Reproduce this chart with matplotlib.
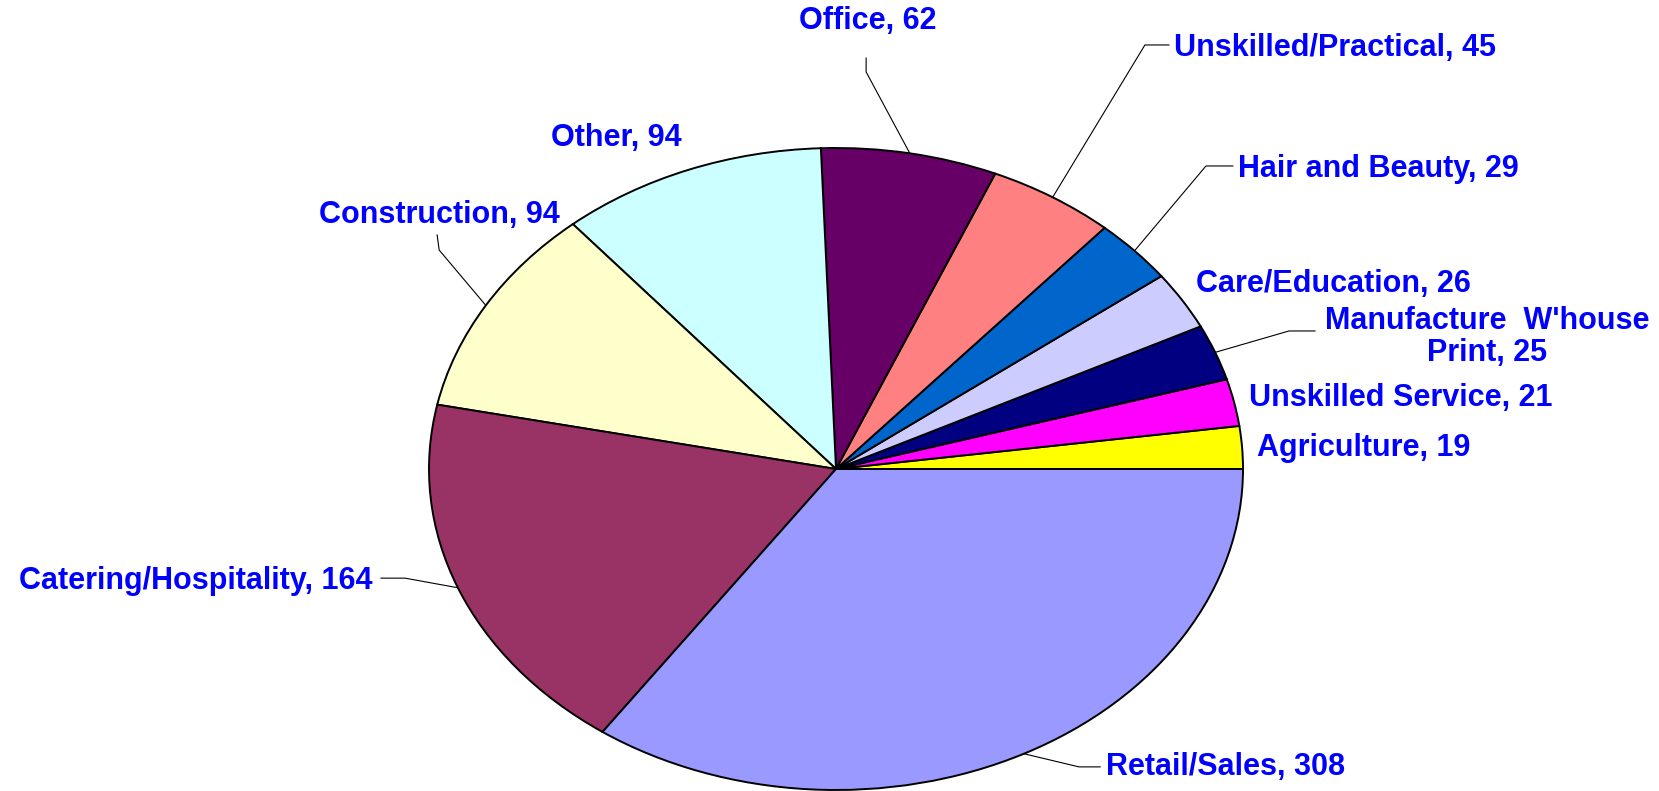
import numpy as np
import matplotlib
matplotlib.use('Agg')
import matplotlib.pyplot as plt

categories = ['Agriculture', 'Unskilled Service', "Manufacture  W'house\nPrint",
              'Care/Education', 'Hair and Beauty', 'Unskilled/Practical',
              'Office', 'Other', 'Construction', 'Catering/Hospitality',
              'Retail/Sales']
values = [19, 21, 25, 26, 29, 45, 62, 94, 94, 164, 308]
colors = ['#FFFF00', '#FF00FF', '#000080', '#CCCCFF', '#0066CC', '#FF8080',
          '#660066', '#CCFFFF', '#FFFFCC', '#993366', '#9999FF']

# label layout in axes data units (pie radius = 1, axes stretched to an ellipse)
# (text x, text y, ha, leader start, leader elbow)
layout = [
    (1.034, 0.065, 'left', None, None),
    (1.015, 0.221, 'left', None, None),
    (1.600, 0.412, 'center', (1.177, 0.430), (1.113, 0.430)),
    (0.885, 0.576, 'left', None, None),
    (0.988, 0.935, 'left', (0.975, 0.944), (0.909, 0.944)),
    (0.830, 1.312, 'left', (0.818, 1.321), (0.759, 1.321)),
    (0.079, 1.396, 'center', (0.074, 1.280), (0.074, 1.237)),
    (-0.541, 1.031, 'center', None, None),
    (-0.975, 0.791, 'center', (-0.980, 0.729), (-0.975, 0.682)),
    (-1.138, -0.349, 'right', (-1.118, -0.340), (-1.059, -0.340)),
    (0.663, -0.928, 'left', (0.649, -0.928), (0.597, -0.928)),
]

fig = plt.figure(figsize=(16.59, 7.91), dpi=100)
fig.patch.set_facecolor('white')
ax = fig.add_axes([429 / 1659, 1 / 791, 814 / 1659, 642 / 791])

wedges, _ = ax.pie(values, colors=colors, startangle=0, counterclock=True,
                   radius=1,
                   wedgeprops=dict(edgecolor='black', linewidth=1.4))
ax.set_aspect('auto')
ax.set_xlim(-1, 1)
ax.set_ylim(-1, 1)
ax.axis('off')

for w, name, val, (tx, ty, ha, start, elbow) in zip(wedges, categories, values, layout):
    mid = np.deg2rad((w.theta1 + w.theta2) / 2)
    ex, ey = np.cos(mid), np.sin(mid)
    if start is not None:
        ax.plot([start[0], elbow[0], ex], [start[1], elbow[1], ey],
                color='black', linewidth=0.8, clip_on=False, zorder=0)
    ax.text(tx, ty, f'{name}, {val}', ha=ha, va='center', color='#0000FF',
            fontsize=22, fontweight='bold', family='Liberation Sans',
            multialignment='center', clip_on=False, linespacing=1.1)

fig.savefig('out.png', dpi=100, facecolor='white')
